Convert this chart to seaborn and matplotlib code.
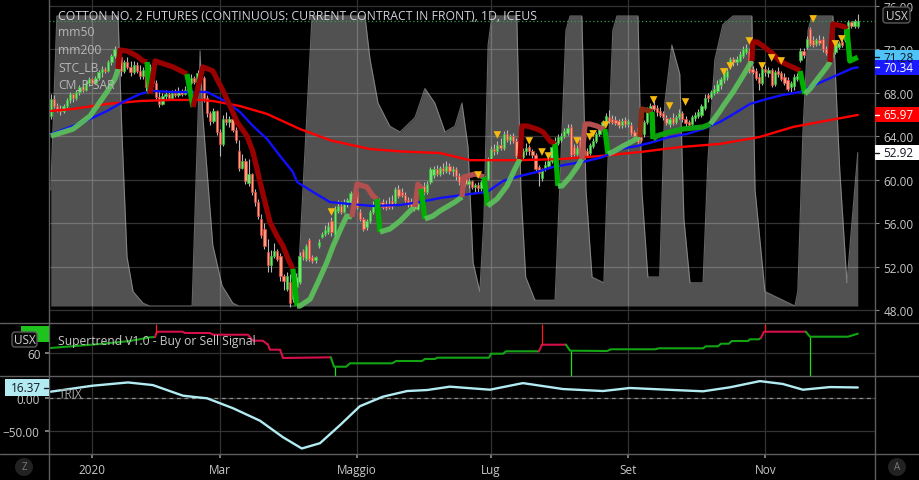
import numpy as np
import pandas as pd
import matplotlib
matplotlib.use("Agg")
import matplotlib.pyplot as plt
import matplotlib.transforms as mtransforms
from matplotlib.patches import Rectangle, FancyBboxPatch, Circle
from matplotlib.lines import Line2D
import seaborn as sns

# --- DATA ---
title = "COTTON NO. 2 FUTURES (CONTINUOUS: CURRENT CONTRACT IN FRONT), 1D, ICEUS"
start_date = "2019-12-12"
holidays = ["2019-12-25", "2020-01-01", "2020-01-20", "2020-02-17", "2020-04-10",
            "2020-05-25", "2020-07-03", "2020-09-07", "2020-11-26"]
month_names = {1: "2020", 3: "Mar", 5: "Maggio", 7: "Lug", 9: "Set", 11: "Nov"}

opens = [65.9, 67.4, 66.8, 66.5, 66.3, 66.8, 67.3, 67.9, 67.5, 68.1,
         68.5, 68.3, 68.9, 69.3, 68.9, 69.4, 69.9, 70.2, 70.0, 70.8,
         71.4, 71.7, 71.3, 70.0, 70.8, 70.4, 69.9, 70.6, 70.0, 69.6,
         70.1, 68.5, 70.4, 68.9, 67.6, 67.0, 67.7, 67.9, 67.5, 68.0,
         67.8, 68.2, 67.9, 68.3, 68.9, 69.4, 69.0, 69.8, 69.4, 67.5,
         66.1, 65.4, 66.3, 64.4, 63.3, 65.6, 65.3, 65.6, 64.6, 62.6,
         61.1, 61.7, 59.7, 60.5, 58.9, 57.9, 56.4, 55.5, 53.3, 52.1,
         53.0, 53.4, 53.0, 51.1, 49.9, 50.6, 49.0, 50.1, 50.6, 53.4,
         52.7, 54.4, 52.9, 52.6, 53.9, 54.7, 55.0, 55.2, 56.2, 54.9,
         57.1, 57.6, 57.0, 57.8, 57.8, 58.6, 58.9, 57.0, 56.4, 55.6,
         56.2, 57.0, 57.5, 57.9, 57.9, 57.8, 57.7, 58.0, 57.9, 59.1,
         58.9, 58.6, 58.1, 57.9, 57.7, 57.3, 58.4, 59.4, 58.9, 59.8,
         60.4, 61.0, 60.5, 61.1, 60.8, 61.3, 60.8, 61.0, 60.3, 59.8,
         60.1, 59.6, 59.9, 59.3, 59.5, 59.2, 59.8, 60.1, 61.9, 62.8,
         62.6, 63.2, 62.9, 64.2, 63.7, 64.0, 63.6, 62.6, 62.1, 62.6,
         63.0, 62.6, 62.3, 61.2, 60.2, 61.0, 61.3, 61.7, 62.7, 63.4,
         63.7, 64.0, 64.3, 64.9, 63.0, 62.4, 63.6, 62.8, 62.6, 62.5,
         63.1, 63.6, 64.2, 64.6, 65.2, 65.8, 65.6, 65.5, 65.4, 65.0,
         65.5, 65.1, 65.0, 64.4, 64.8, 63.9, 64.2, 65.3, 66.3, 66.9,
         66.6, 66.3, 66.1, 65.7, 65.1, 65.7, 65.3, 65.8, 66.1, 65.6,
         65.3, 65.1, 65.7, 65.9, 66.0, 66.6, 67.8, 67.6, 68.0, 68.2,
         68.7, 69.2, 69.5, 70.4, 71.1, 70.8, 70.9, 71.4, 71.8, 71.9,
         70.2, 70.0, 69.5, 68.9, 70.2, 69.8, 70.1, 68.8, 70.0, 69.8,
         69.5, 69.2, 68.5, 68.6, 69.3, 71.0, 71.9, 72.2, 73.9, 72.9,
         72.5, 72.9, 73.0, 72.0, 71.8, 71.3, 71.8, 72.2, 72.7, 72.9,
         73.7, 74.5, 74.2, 74.2]
highs = [67.9, 67.8, 67.1, 66.9, 67.0, 67.5, 68.1, 68.0, 68.3, 68.7,
         68.8, 69.1, 69.5, 69.4, 69.6, 70.1, 70.5, 70.4, 71.0, 71.6,
         72.3, 72.2, 71.5, 71.0, 71.3, 70.9, 70.9, 70.8, 70.6, 70.4,
         70.3, 70.7, 70.5, 69.2, 68.2, 68.0, 68.3, 68.1, 68.3, 68.4,
         68.5, 68.4, 68.6, 69.1, 69.7, 69.6, 70.1, 70.1, 69.6, 67.8,
         66.3, 66.6, 66.4, 64.7, 66.0, 66.2, 65.9, 65.8, 64.9, 63.7,
         62.4, 62.0, 61.9, 60.6, 59.1, 58.2, 56.8, 56.0, 54.5, 53.5,
         54.2, 53.6, 53.2, 51.3, 51.5, 51.3, 51.9, 51.4, 53.3, 53.6,
         54.1, 54.6, 53.1, 53.0, 54.5, 55.2, 55.8, 56.1, 56.6, 57.6,
         58.1, 58.0, 58.2, 58.3, 59.0, 59.3, 59.2, 57.3, 56.6, 56.4,
         57.2, 58.0, 58.2, 58.3, 58.2, 58.1, 58.4, 58.6, 59.3, 59.5,
         59.2, 58.9, 58.4, 58.3, 58.0, 58.0, 59.6, 59.8, 59.9, 61.2,
         61.3, 61.4, 61.3, 61.5, 61.7, 61.5, 61.3, 61.2, 60.6, 60.4,
         60.3, 60.1, 60.0, 59.7, 59.8, 60.0, 60.3, 62.1, 63.1, 63.3,
         63.6, 63.8, 64.5, 64.6, 64.2, 64.3, 63.8, 62.9, 62.9, 63.4,
         63.2, 62.8, 62.5, 61.4, 61.1, 61.7, 61.9, 63.1, 63.9, 64.2,
         64.3, 64.8, 65.1, 65.1, 63.3, 63.2, 63.9, 63.0, 62.9, 63.4,
         63.8, 64.4, 64.9, 65.5, 66.1, 66.4, 66.0, 65.9, 65.6, 65.7,
         65.8, 65.6, 65.3, 64.6, 65.0, 64.1, 65.5, 66.7, 67.1, 67.3,
         66.9, 66.7, 66.3, 66.0, 65.8, 66.1, 66.0, 66.5, 66.3, 65.9,
         65.5, 66.0, 66.2, 66.5, 67.0, 67.9, 68.0, 68.3, 68.7, 69.2,
         69.5, 70.1, 70.3, 71.3, 71.3, 71.4, 71.9, 72.3, 72.5, 72.1,
         70.5, 70.3, 69.8, 70.4, 70.6, 70.4, 70.3, 70.1, 70.4, 70.0,
         69.8, 69.5, 69.1, 69.7, 69.8, 72.1, 72.1, 73.2, 74.1, 73.2,
         73.1, 73.3, 73.2, 72.3, 72.0, 72.0, 72.6, 72.8, 72.9, 74.1,
         74.7, 74.6, 74.8, 75.3]
lows = [65.6, 66.6, 66.2, 66.0, 66.1, 66.6, 67.1, 67.2, 67.3, 67.8,
        68.1, 68.2, 68.6, 68.7, 68.8, 69.2, 69.5, 69.8, 69.9, 70.6,
        71.2, 71.0, 69.6, 69.8, 70.2, 69.6, 69.7, 69.8, 69.3, 69.3,
        68.2, 68.3, 68.6, 67.3, 66.7, 66.9, 67.3, 67.3, 67.4, 67.6,
        67.6, 67.7, 67.8, 68.1, 68.7, 68.8, 68.9, 69.2, 67.2, 65.8,
        65.0, 65.2, 64.1, 62.2, 63.1, 65.0, 64.9, 64.4, 63.4, 60.8,
        61.0, 59.6, 59.4, 58.6, 57.6, 56.4, 54.6, 53.6, 51.5, 51.5,
        52.8, 52.5, 50.7, 49.8, 49.7, 48.3, 48.7, 49.6, 50.4, 52.6,
        52.5, 52.5, 52.3, 52.3, 53.7, 54.6, 54.8, 55.0, 54.8, 54.6,
        56.9, 56.8, 56.9, 57.5, 57.6, 58.3, 57.3, 56.2, 55.3, 55.4,
        56.0, 56.8, 57.3, 57.4, 57.3, 57.2, 57.3, 57.3, 57.7, 58.3,
        58.4, 57.9, 57.5, 57.4, 57.1, 57.2, 58.2, 58.6, 58.7, 59.6,
        60.2, 60.3, 60.3, 60.5, 60.6, 60.5, 60.3, 60.0, 59.5, 59.6,
        59.4, 59.2, 59.1, 58.8, 58.9, 59.0, 59.6, 60.0, 61.7, 62.3,
        62.4, 62.7, 62.7, 63.5, 63.3, 63.4, 62.0, 61.9, 61.9, 62.3,
        62.3, 62.0, 60.8, 59.4, 59.9, 60.8, 61.1, 61.5, 62.5, 63.2,
        63.5, 63.8, 64.1, 62.1, 62.2, 62.2, 62.0, 62.1, 62.1, 62.3,
        62.9, 63.4, 64.0, 64.4, 65.0, 65.2, 65.1, 65.0, 64.8, 64.8,
        64.9, 64.9, 64.1, 63.8, 63.3, 63.5, 63.9, 65.1, 66.1, 66.3,
        65.9, 65.8, 65.5, 65.0, 64.9, 65.0, 65.1, 65.6, 65.3, 64.9,
        64.8, 64.9, 65.4, 65.7, 65.8, 66.4, 67.2, 67.4, 67.8, 68.0,
        68.4, 68.9, 69.2, 70.2, 70.5, 70.6, 70.8, 71.2, 71.6, 69.8,
        69.7, 69.2, 68.3, 68.7, 69.6, 69.5, 68.5, 68.6, 69.5, 69.1,
        68.7, 68.2, 68.1, 68.3, 69.1, 70.8, 71.2, 72.0, 72.3, 72.2,
        72.3, 72.4, 71.8, 71.5, 71.0, 71.1, 71.6, 72.0, 72.2, 72.7,
        73.5, 74.0, 74.0, 74.0]
closes = [67.4, 66.8, 66.5, 66.3, 66.8, 67.3, 67.9, 67.5, 68.1, 68.5,
          68.3, 68.9, 69.3, 68.9, 69.4, 69.9, 70.2, 70.0, 70.8, 71.4,
          72.0, 71.3, 70.0, 70.8, 70.4, 69.9, 70.6, 70.0, 69.6, 70.1,
          68.5, 70.4, 68.9, 67.6, 67.0, 67.7, 67.9, 67.5, 68.0, 67.8,
          68.2, 67.9, 68.3, 68.9, 69.4, 69.0, 69.8, 69.4, 67.5, 66.1,
          65.4, 66.3, 64.4, 63.3, 65.6, 65.3, 65.6, 64.6, 63.7, 61.1,
          61.7, 59.9, 60.5, 58.9, 57.9, 56.7, 54.9, 53.9, 52.1, 53.0,
          53.4, 52.7, 51.1, 50.7, 51.1, 48.6, 51.5, 51.0, 53.0, 52.9,
          53.9, 52.7, 52.5, 52.9, 54.3, 55.0, 55.4, 55.7, 55.2, 57.3,
          57.6, 57.0, 57.9, 58.1, 58.8, 58.9, 57.5, 56.4, 55.5, 56.2,
          57.0, 57.6, 57.9, 57.6, 57.5, 57.4, 57.5, 57.6, 59.1, 58.5,
          58.6, 58.1, 57.8, 57.6, 57.3, 57.8, 59.4, 58.9, 59.6, 61.0,
          61.0, 60.5, 61.1, 60.8, 61.3, 60.8, 61.0, 60.3, 59.8, 60.1,
          59.6, 59.9, 59.3, 59.5, 59.2, 59.8, 60.1, 61.9, 62.8, 62.6,
          63.2, 62.9, 64.2, 63.7, 64.0, 63.6, 62.2, 62.1, 62.6, 62.9,
          62.6, 62.3, 61.0, 60.6, 61.0, 61.4, 61.7, 63.0, 63.5, 63.9,
          64.0, 64.5, 64.8, 62.3, 62.4, 62.9, 62.3, 62.4, 62.2, 63.2,
          63.6, 64.2, 64.7, 65.3, 65.9, 65.4, 65.3, 65.2, 65.0, 65.4,
          65.1, 65.4, 64.3, 64.0, 63.5, 63.7, 65.3, 66.5, 66.8, 66.5,
          66.2, 66.0, 65.8, 65.2, 65.6, 65.2, 65.8, 66.1, 65.6, 65.2,
          65.0, 65.8, 66.0, 66.2, 66.8, 67.5, 67.5, 68.1, 68.4, 68.8,
          69.3, 69.9, 70.0, 71.1, 70.8, 71.1, 71.6, 72.0, 72.1, 70.0,
          69.9, 69.4, 68.9, 70.2, 69.9, 70.1, 68.7, 69.9, 69.7, 69.3,
          68.9, 68.4, 68.9, 69.5, 69.6, 71.9, 71.5, 73.0, 72.5, 72.4,
          72.9, 72.6, 72.0, 71.7, 71.2, 71.8, 72.4, 72.6, 72.4, 73.9,
          74.5, 74.2, 74.6, 74.6]

# mm50 / mm200 (bar index, price)
mm50_bar = [0, 7, 12.3, 17.6, 22.6, 28, 32, 38.3, 44.6, 49, 52.1, 55.2, 59.3, 63.4, 67.8,
            71.9, 75.9, 77.2, 82.2, 87.5, 93.8, 101, 109.5, 115.7, 122, 131.4, 136.8, 141.8,
            147.1, 152.4, 157.4, 162.8, 168.1, 173.1, 178.4, 183.8, 188.8, 194.1, 199.4,
            204.5, 209.8, 213, 219.2, 224.5, 229.5, 234.9, 240.2, 245.2, 251.5, 253]
mm50_val = [64.21, 64.95, 65.59, 66.33, 67.16, 67.9, 68.18, 68.08, 68.08, 68.08, 67.62, 67.16,
            66.24, 64.95, 63.75, 62.18, 60.71, 59.79, 58.87, 57.94, 57.76, 57.58, 57.67, 57.94,
            58.31, 58.68, 58.87, 59.88, 60.34, 60.71, 61.17, 61.45, 61.72, 62.09, 62.83, 63.1,
            63.47, 63.94, 64.21, 64.67, 65.32, 65.87, 66.98, 67.44, 67.81, 68.08, 68.82,
            69.47, 70.29, 70.34]
mm200_bar = [0, 7, 17.6, 28, 38.3, 46.8, 50.8, 59.3, 67.8, 78.1, 88, 100, 110, 122, 131.4,
             147.1, 159.6, 172.2, 184.7, 197.2, 209.8, 222.3, 232.7, 253]
mm200_val = [66.33, 66.52, 66.98, 67.25, 67.35, 67.35, 67.25, 66.79, 66.06, 64.67, 63.6,
             62.83, 62.6, 62.46, 61.8, 61.8, 61.9, 62.18, 62.55, 63.0, 63.3, 63.94, 64.86, 65.97]

# STC_LB oscillator (0-100), own scale
stc_bar = [0, 1.9, 21.1, 22.3, 23.9, 25.8, 28.9, 31, 44.3, 46.8, 47.7, 50.8, 53.7, 57.1, 59,
           76.9, 78.1, 81.9, 98.5, 100.1, 102.6, 106.3, 109.5, 114.2, 117.3, 120.4, 123.6,
           126.7, 128.9, 130.8, 132.4, 134.5, 135.8, 137.1, 138.3, 146.1, 147.4, 148.9, 151.8,
           158.1, 159.9, 161.5, 162.8, 166.5, 167.8, 169.7, 173.4, 175, 176.2, 177.5, 184.1,
           185.3, 187.2, 190.9, 192.5, 194.7, 197.2, 198.5, 200.4, 204.5, 206, 208.2, 210.7,
           213.9, 219.8, 220.8, 223.9, 233.3, 234.2, 235.8, 237.4, 238.6, 245.2, 246.8, 247.4,
           249.6, 253]
stc_val = [40, 100, 100, 60, 17, 5, 1, 0, 0, 88, 65, 21, 7, 1, 0,
           0, 20, 100, 100, 85, 70, 62, 60, 65, 75, 70, 60,
           62, 70, 55, 15, 5, 30, 90, 100, 100, 40, 10, 2,
           2, 50, 95, 100, 100, 40, 10, 8, 60, 95, 100, 100,
           40, 10, 10, 70, 90, 80, 30, 8, 8, 50, 85, 97,
           100, 100, 40, 5, 0, 5, 60, 95, 100, 100, 60, 46,
           8, 52.92]

# CM P-SAR trailing line: point, and style of the segment that ends at it
sar_bar = [0, 7, 12.3, 17.6, 20.1, 21.1, 21.7, 23.9, 27, 28.9, 30.2, 31.1, 32.7, 38.3, 42.7,
           44.6, 47.7, 50.8, 53.7, 56.2, 58.4, 61.5, 63.4, 65.6, 68.7, 70.9, 72.8, 74.4, 75.9,
           77.2, 78.1, 81.3, 83.8, 86.6, 88.5, 91.3, 92.8, 94.4, 96, 99.1, 101, 102.3, 103.2,
           106.3, 109.5, 112.6, 114.2, 115.1, 116.1, 117.3, 119.8, 122, 126.7, 128.9, 129.5,
           133, 135.8, 137, 139.9, 143, 145.5, 147.1, 147.7, 149.3, 152.4, 154.3, 156.5,
           158.1, 159, 160.3, 162.8, 165, 166.5, 167.5, 169, 171.2, 173.1, 173.7, 174.7,
           176.2, 179.4, 182.5, 184.7, 185.3, 187.8, 188.5, 188.8, 190, 194.1, 198.2, 204.5,
           206.8, 209.8, 210.8, 213.9, 217, 219.2, 219.8, 220.1, 221.4, 223.3, 226.4, 228.5,
           231.7, 233.9, 234.9, 236.4, 238, 241.1, 243.3, 244.3, 245.2, 246.5, 249, 249.6,
           250.5, 253]
sar_val = [64.03, 64.67, 65.87, 68.08, 69.28, 70.2, 71.95, 71.86, 71.4, 70.94, 70.85, 67.9,
           70.94, 70.39, 69.74, 66.7, 70.39, 70.02, 68.36, 66.79, 65.32, 64.03, 62.55, 59.79,
           56.11, 54.82, 53.9, 52.7, 51.78, 48.36, 48.36, 49.0, 50.57, 52.41, 53.89, 55.73,
           56.65, 56.56, 59.6, 59.33, 58.5, 58.22, 55.18, 55.46, 56.19, 57.12, 57.48, 59.6,
           59.14, 56.38, 56.65, 57.12, 57.94, 58.41, 60.25, 60.53, 60.25, 57.58, 58.22, 59.42,
           60.98, 61.9, 64.95, 64.95, 64.67, 64.4, 63.57, 63.29, 59.42, 59.42, 60.25, 61.17,
           61.9, 65.13, 65.13, 64.95, 64.67, 64.67, 62.37, 62.55, 63.1, 63.57, 63.94, 66.52,
           66.33, 66.24, 63.75, 64.03, 64.4, 64.67, 64.86, 65.13, 66.33, 66.79, 68.08, 69.56,
           70.66, 70.94, 72.69, 72.69, 72.32, 71.59, 70.94, 70.48, 70.2, 70.02, 67.9, 68.36,
           69.56, 70.39, 70.85, 74.35, 74.26, 74.07, 73.89, 70.94, 71.28]
sar_kind = (["LG"] * 6 + ["DR"] * 5 + ["G"] + ["DR"] * 3 + ["G"] + ["DR"] * 13 + ["G"]
            + ["LG"] * 8 + ["LR"] * 4 + ["G"] + ["LG"] * 4 + ["LR"] * 2 + ["G"] + ["LG"] * 4
            + ["LR"] * 3 + ["G"] + ["LG"] * 4 + ["DR"] * 6 + ["G"] + ["LG"] * 4 + ["LR"] * 5
            + ["G"] + ["LG"] * 4 + ["BR"] * 3 + ["G"] + ["DG"] * 5 + ["LG"] * 6 + ["DR"] * 8
            + ["G"] + ["LG"] * 4 + ["DR"] * 4 + ["G"] * 2)

# signal triangles (bar, price)
tri_bar = [88, 134, 140, 150, 154, 156, 165, 169, 170, 174, 189, 194, 199, 211, 213, 219,
           223, 226, 229, 239, 246, 248]
tri_val = [57.02, 60.43, 64.12, 63.57, 62.55, 62.18, 63.57, 63.94, 64.22, 65.04, 67.35,
           66.79, 67.16, 69.93, 70.48, 72.78, 70.48, 71.22, 70.94, 74.81, 72.51, 72.97]

# Supertrend V1.0
st_bar = [0, 15.4, 24.8, 31.1, 32.7, 33.3, 41.4, 42, 49.9, 50.9, 61.8, 63.4, 66.5, 67.8, 68,
          68.7, 71.9, 72.8, 87.8, 88.8, 92.6, 93.8, 107, 108.3, 116.4, 117.3, 120.4, 121.1,
          137.4, 138, 141.8, 142.7, 153, 154, 161.5, 162.8, 174.4, 175.6, 189.4, 190.7, 204.5,
          205.4, 209.2, 210.1, 212.6, 213.5, 218.6, 219.2, 222, 222.6, 223.6, 236.7, 238,
          249.9, 253]
st_val = [62.65, 64.65, 66.15, 68.0, 68.15, 70.8, 70.8, 70.15, 70.15, 69.3, 69.3, 66.3, 66.3,
          64.65, 64.65, 61.8, 61.8, 57.65, 58.0, 53.3, 53.3, 55.0, 55.0, 56.15, 56.15, 57.15,
          57.15, 57.8, 57.8, 59.8, 59.8, 61.0, 61.0, 64.3, 64.3, 61.3, 61.15, 62.0, 62.0,
          62.5, 62.5, 63.5, 63.5, 64.8, 64.8, 66.15, 66.15, 67.0, 67.0, 67.65, 70.8, 70.8,
          68.3, 68.3, 69.8]
st_kind = (["G"] * 5 + ["R"] * 14 + ["G"] * 14 + ["R"] * 2 + ["G"] * 15 + ["R"] * 2 + ["G"] * 3)
sig_bar = [33, 89, 154, 163, 224, 238]
sig_kind = ["sell", "buy", "sell", "buy", "sell", "buy"]

# TRIX
trix_bar = [0, 13, 24.2, 32, 41.4, 45, 49, 57.1, 65.6, 72.8, 78.7, 84.4, 90.6, 96.9, 104.1,
            111.7, 118, 125.1, 137.7, 148, 160.6, 173.1, 181.6, 193.2, 204.5, 213, 222.3,
            229.5, 235.8, 244.3, 253]
trix_val = [10, 19, 24, 20, 4, 2, 0, -15, -34, -59, -76, -68, -41, -12, 2.4, 11, 12.5, 17.6,
            13, 23, 14, 11, 15.6, 13, 10.6, 16.7, 26, 21.7, 13, 17, 16.37]

# --- STYLE ---
sns.set_theme(style="dark", rc={
    "figure.facecolor": "black", "axes.facecolor": "black", "savefig.facecolor": "black",
    "axes.edgecolor": "black", "grid.color": "#333333", "grid.linewidth": 0.9,
    "text.color": "#c8c8c8", "xtick.color": "#c8c8c8", "ytick.color": "#c8c8c8",
    "xtick.labelcolor": "#c8c8c8", "ytick.labelcolor": "#c8c8c8",
})
plt.rcParams["font.family"] = ["Open Sans", "DejaVu Sans"]
plt.rcParams["font.size"] = 8.5

W, H = 920, 481
fig = plt.figure(figsize=(W / 100, H / 100), dpi=100)
PIX = mtransforms.IdentityTransform()


def frac(x0, y0, x1, y1):
    return [x0 / W, 1 - y1 / H, (x1 - x0) / W, (y1 - y0) / H]


def px_line(x0, y0, x1, y1, color, lw=1.0, z=20):
    fig.add_artist(Line2D([x0, x1], [H - y0, H - y1], transform=PIX, color=color, lw=lw, zorder=z))


bars = np.arange(len(closes))
bdays = pd.offsets.CustomBusinessDay(holidays=holidays)
dates = pd.date_range(start_date, periods=len(closes), freq=bdays)
new_month = ~np.asarray(dates.to_period("M").duplicated())
tick_idx = [i for i in bars[new_month] if dates[i].year == 2020 and dates[i].month in month_names]
tick_lab = [month_names[dates[i].month] for i in tick_idx]

main_rect = frac(49, 0, 875, 322)
ax_bg = fig.add_axes(main_rect, zorder=0)
ax_stc = fig.add_axes(main_rect, zorder=1, sharex=ax_bg)
ax = fig.add_axes(main_rect, zorder=2, sharex=ax_bg, sharey=ax_bg)
ax_st = fig.add_axes(frac(49, 324.5, 875, 377), zorder=0, sharex=ax_bg)
ax_tr = fig.add_axes(frac(49, 377.5, 875, 454.5), zorder=0, sharex=ax_bg)

for a in (ax_bg, ax_stc, ax, ax_st, ax_tr):
    for s in a.spines.values():
        s.set_visible(False)
ax_stc.patch.set_visible(False)
ax.patch.set_visible(False)

ax_bg.set_xlim(-0.56, 258.4)
ax_bg.set_xticks(tick_idx)
ax_bg.set_ylim(46.98, 76.65)
ax_bg.set_yticks(np.arange(48, 77, 4))
ax_bg.grid(True)
ax_bg.tick_params(left=False, bottom=False, labelleft=False, labelbottom=False)

# STC area behind everything
ax_stc.set_ylim(-5.17, 105.86)
ax_stc.fill_between(stc_bar, 0, stc_val, color="white", alpha=0.32, lw=0)
ax_stc.plot(stc_bar, stc_val, color="#a8a8a8", lw=0.8, alpha=0.6)
ax_stc.set_yticks([])
ax_stc.tick_params(bottom=False, labelbottom=False)

# candles
o, h, l, c = map(np.array, (opens, highs, lows, closes))
up = c >= o
ax.vlines(bars, l, h, color="#b8b8b8", lw=0.8, zorder=3)
ax.bar(bars, np.maximum(np.abs(c - o), 0.06), bottom=np.minimum(o, c), width=0.72,
       color=list(np.where(up, "#78e078", "#ff9c7e")),
       edgecolor=list(np.where(up, "#2fbf2f", "#e0443a")), linewidth=0.5, zorder=4)
ax.axhline(closes[-1], color="#2e9e4f", ls=(0, (1, 2)), lw=0.9, zorder=2)

# moving averages
sns.lineplot(x=mm200_bar, y=mm200_val, ax=ax, color="#ff0000", lw=1.7, sort=False,
             estimator=None, zorder=5)
sns.lineplot(x=mm50_bar, y=mm50_val, ax=ax, color="#1010ff", lw=1.7, sort=False,
             estimator=None, zorder=5)

# P-SAR thick line
sar_colors = {"LG": "#5cc35c", "DG": "#0e9e0e", "G": "#00b000", "DR": "#990000",
              "LR": "#b25050", "BR": "#8a2a10"}
j = 1
while j < len(sar_bar):
    k = j
    while k + 1 < len(sar_bar) and sar_kind[k + 1] == sar_kind[j]:
        k += 1
    ax.plot(sar_bar[j - 1:k + 1], sar_val[j - 1:k + 1], color=sar_colors[sar_kind[j]],
            lw=3.8, solid_capstyle="butt", solid_joinstyle="round", zorder=6,
            alpha=0.9 if sar_kind[j] == "LG" else 1.0)
    j = k + 1

ax.scatter(tri_bar, tri_val, marker="v", s=30, color="#f5b90f", edgecolors="none", zorder=7)

ax.yaxis.tick_right()
ax.yaxis.set_major_formatter(matplotlib.ticker.FormatStrFormatter("%.2f"))
ax.tick_params(axis="y", right=True, length=3, width=0.8, color="#8a8a8a", pad=3, labelsize=8.5)
ax.tick_params(axis="x", bottom=False, labelbottom=False)
ax.grid(False)

# Supertrend panel
ax_st.set_ylim(48.65, 74.9)
ax_st.set_yticks([60])
ax_st.set_yticklabels(["60"])
ax_st.grid(True)
ax_st.tick_params(axis="y", left=True, length=3, color="#8a8a8a", pad=2.5, labelsize=8.5)
ax_st.tick_params(axis="x", bottom=False, labelbottom=False)
st_colors = {"G": "#13a313", "R": "#d3104a"}
j = 1
while j < len(st_bar):
    k = j
    while k + 1 < len(st_bar) and st_kind[k + 1] == st_kind[j]:
        k += 1
    ax_st.plot(st_bar[j - 1:k + 1], st_val[j - 1:k + 1], color=st_colors[st_kind[j]], lw=1.5,
               zorder=4)
    j = k + 1
st_lo, st_hi = ax_st.get_ylim()
for b, kind in zip(sig_bar, sig_kind):
    v = np.interp(b, st_bar, st_val)
    if kind == "sell":
        ax_st.vlines(b, v, st_hi, color="#ff1a1a", lw=0.9, zorder=5)
    else:
        ax_st.vlines(b, st_lo, v, color="#1de01d", lw=0.9, zorder=5)

# TRIX panel
ax_tr.set_ylim(-83.6, 33.0)
ax_tr.set_yticks([0, -50])
ax_tr.set_yticklabels(["0.00", "\u221250.00"])
ax_tr.grid(True)
ax_tr.axhline(0, color="#8c8c8c", lw=0.9, ls=(0, (3, 3)), zorder=2)
sns.lineplot(x=trix_bar, y=trix_val, ax=ax_tr, color="#b2ebf2", lw=1.7, sort=False,
             estimator=None, zorder=4)
ax_tr.set_xticks(tick_idx)
ax_tr.set_xticklabels(tick_lab)
ax_tr.tick_params(axis="x", bottom=True, length=3, color="#8a8a8a", pad=4, labelsize=8.5)
ax_tr.tick_params(axis="y", left=True, length=3, color="#8a8a8a", pad=4, labelsize=8.5)
for a in (ax_st, ax_tr, ax):
    a.set_xlabel("")
    a.set_ylabel("")

# separators
for yy in (324, 377, 454.5):
    px_line(0, yy, W, yy, "#5e5e5e")
px_line(49, 0, 49, H, "#5e5e5e")
px_line(875, 0, 875, H, "#5e5e5e")


def price_tag(axis, value, fc, tc):
    trans = mtransforms.blended_transform_factory(fig.transFigure, axis.transData)
    y0, y1 = axis.get_ylim()
    unit = (y1 - y0) / axis.bbox.height
    fig.add_artist(Rectangle((875.5 / W, value - 7.5 * unit), 44.5 / W, 15 * unit,
                             transform=trans, fc=fc, ec="none", zorder=30))
    fig.add_artist(Line2D([875.5 / W, 879 / W], [value, value], transform=trans, color=tc,
                          lw=1, zorder=31))
    fig.text(883 / W, value, f"{value:.2f}", transform=trans, color=tc, fontsize=8.5,
             va="center", ha="left", zorder=32)


price_tag(ax, sar_val[-1], "#4fc3f7", "#131722")
price_tag(ax, mm50_val[-1], "#1a1aff", "white")
price_tag(ax, mm200_val[-1], "#ff0000", "white")
price_tag(ax_stc, stc_val[-1], "white", "#131722")

# texts
fig.text(58 / W, 1 - 16 / H, title, color="#d1d4dc", fontsize=8.8, va="center", zorder=40)
for name, yy in zip(["mm50", "mm200", "STC_LB", "CM_P-SAR"], [33, 50, 67.5, 84.5]):
    fig.text(58 / W, 1 - yy / H, name, color="#b8b8b8", fontsize=8.7, va="center", zorder=40)
fig.text(58 / W, 1 - 341.5 / H, "Supertrend V1.0 - Buy or Sell Signal", color="#c8c8c8",
         fontsize=8.7, va="center", zorder=40)
fig.text(59 / W, 1 - 395 / H, "TRIX", color="#a8a8a8", fontsize=8.5, va="center", zorder=3)


def px_box(x0, y0, x1, y1, fc, ec="none", rounded=False, z=30):
    if rounded:
        p = FancyBboxPatch((x0, H - y1), x1 - x0, y1 - y0, boxstyle="round,pad=0,rounding_size=3",
                           transform=PIX, fc=fc, ec=ec, lw=1, zorder=z)
    else:
        p = Rectangle((x0, H - y1), x1 - x0, y1 - y0, transform=PIX, fc=fc, ec=ec, lw=1, zorder=z)
    fig.add_artist(p)


# USX badges and left value labels
px_box(883, 8, 910, 24, "#0a0a0a", "#5a5a5a", rounded=True, z=33)
fig.text(896.5 / W, 1 - 16 / H, "USX", color="#d0d0d0", fontsize=8.5, ha="center",
         va="center", zorder=34)
px_box(21, 327, 49, 343, "#1ec31e", z=30)
px_box(12, 333, 37, 348, "#0a0a0a", "#5a5a5a", rounded=True, z=33)
fig.text(24.5 / W, 1 - 340.5 / H, "USX", color="#d0d0d0", fontsize=8.5, ha="center",
         va="center", zorder=34)
px_box(5, 380, 49, 397, "#b2ebf2", z=30)
fig.text(41 / W, 1 - 388.5 / H, f"{trix_val[-1]:.2f}", color="#131722", fontsize=8.5,
         ha="right", va="center", zorder=34)
px_line(44, 388.5, 48, 388.5, "#131722", z=34)

# Z / A buttons
for cx, letter in ((24, "Z"), (897, "A")):
    fig.add_artist(Circle((cx, H - 468), 9, transform=PIX, fc="#222222", ec="none", zorder=30))
    fig.text(cx / W, 1 - 468 / H, letter, color="#7a7a7a", fontsize=7, ha="center",
             va="center", zorder=31)

fig.savefig("out.png", dpi=100, facecolor="black")
